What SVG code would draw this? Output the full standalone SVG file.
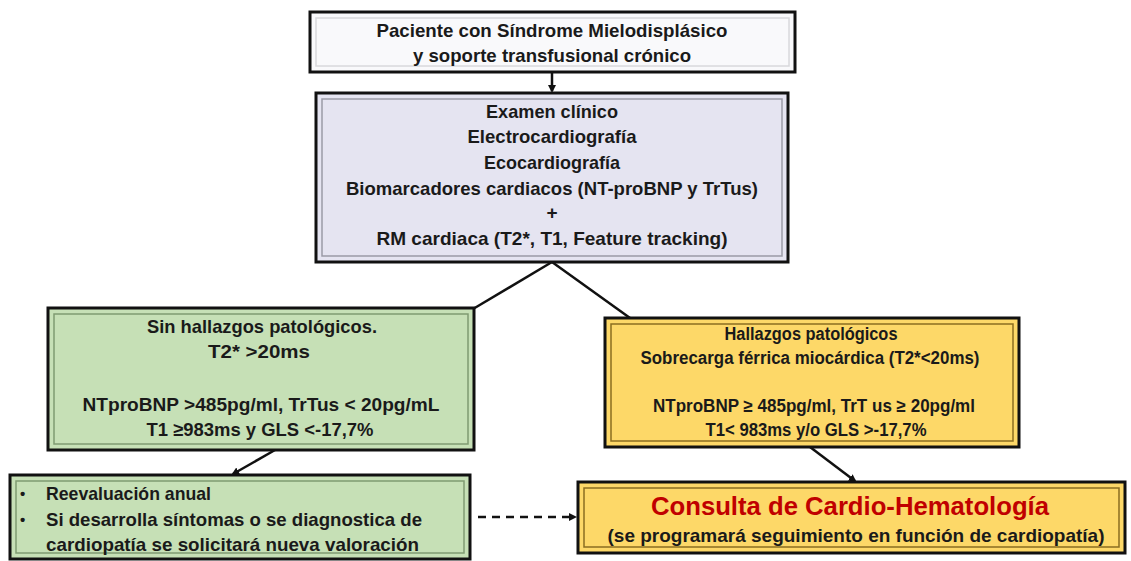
<svg xmlns="http://www.w3.org/2000/svg" width="1131" height="561" viewBox="0 0 1131 561">
<style>
text{font-family:"Liberation Sans",Arial,sans-serif;font-weight:bold;fill:#1a1a1a;font-size:19px}
.c{text-anchor:middle}
.s{font-size:18px}
.b{font-size:15px}
.outer{stroke:#111;stroke-width:3}
.conn{stroke:#111;stroke-width:2.5;fill:none}
</style>
<defs>
<marker id="ah" markerWidth="8" markerHeight="8" refX="6" refY="4" orient="auto" markerUnits="userSpaceOnUse">
<path d="M0,0 L8,4 L0,8 Z" fill="#111"/>
</marker>
</defs>
<rect width="1131" height="561" fill="#fff"/>
<g id="connectors">
<line class="conn" x1="552" y1="72" x2="552" y2="91" marker-end="url(#ah)"/>
<line class="conn" x1="552" y1="262" x2="473" y2="309"/>
<line class="conn" x1="552" y1="262" x2="630" y2="318"/>
<line class="conn" x1="275" y1="450" x2="233" y2="474" marker-end="url(#ah)"/>
<line class="conn" x1="810" y1="447" x2="855" y2="481" marker-end="url(#ah)"/>
<line class="conn" x1="478" y1="517" x2="575" y2="517" stroke-dasharray="8,6" stroke-width="2" marker-end="url(#ah)"/>
</g>
<g id="n-paciente">
<rect class="outer" x="310" y="12" width="485" height="60" fill="#f9f9fb"/>
<rect x="316" y="18" width="473" height="48" fill="none" stroke="#d8d8dc" stroke-width="1.5"/>
<text class="c" x="552" y="37" textLength="351" lengthAdjust="spacingAndGlyphs">Paciente con Síndrome Mielodisplásico</text>
<text class="c" x="552" y="62" textLength="278" lengthAdjust="spacingAndGlyphs">y soporte transfusional crónico</text>
</g>
<g id="n-examen">
<rect class="outer" x="316" y="93" width="472" height="169" fill="#e5e4f1"/>
<rect x="322" y="99" width="460" height="157" fill="none" stroke="#9a9aa6" stroke-width="1.5"/>
<text class="c" x="552" y="118" textLength="132" lengthAdjust="spacingAndGlyphs">Examen clínico</text>
<text class="c" x="552" y="143" textLength="169" lengthAdjust="spacingAndGlyphs">Electrocardiografía</text>
<text class="c" x="552" y="169" textLength="136" lengthAdjust="spacingAndGlyphs">Ecocardiografía</text>
<text class="c" x="552" y="195" textLength="412" lengthAdjust="spacingAndGlyphs">Biomarcadores cardiacos (NT-proBNP y TrTus)</text>
<text class="c" x="552" y="219">+</text>
<text class="c" x="552" y="245" textLength="351" lengthAdjust="spacingAndGlyphs">RM cardiaca (T2*, T1, Feature tracking)</text>
</g>
<g id="n-sin">
<rect class="outer" x="48" y="308" width="426" height="142" fill="#c6e0b6"/>
<rect x="54" y="314" width="414" height="130" fill="none" stroke="#7f9a72" stroke-width="1.5"/>
<text class="c" x="262" y="333" textLength="230" lengthAdjust="spacingAndGlyphs">Sin hallazgos patológicos.</text>
<text class="c" x="259" y="358" textLength="102" lengthAdjust="spacingAndGlyphs">T2* &gt;20ms</text>
<text class="c" x="261" y="411" textLength="357" lengthAdjust="spacingAndGlyphs">NTproBNP &gt;485pg/ml, TrTus &lt; 20pg/mL</text>
<text class="c" x="260" y="436" textLength="227" lengthAdjust="spacingAndGlyphs">T1 ≥983ms y GLS &lt;-17,7%</text>
</g>
<g id="n-hallazgos">
<rect class="outer" x="605" y="318" width="414" height="129" fill="#fdd868"/>
<rect x="611" y="324" width="402" height="117" fill="none" stroke="#8a6d20" stroke-width="1.5"/>
<text class="c s" x="811" y="340" textLength="173" lengthAdjust="spacingAndGlyphs">Hallazgos patológicos</text>
<text class="c s" x="810" y="364" textLength="339" lengthAdjust="spacingAndGlyphs">Sobrecarga férrica miocárdica (T2*&lt;20ms)</text>
<text class="c s" x="814" y="412" textLength="322" lengthAdjust="spacingAndGlyphs">NTproBNP ≥ 485pg/ml, TrT us ≥ 20pg/ml</text>
<text class="c s" x="816" y="436" textLength="221" lengthAdjust="spacingAndGlyphs">T1&lt; 983ms y/o GLS &gt;-17,7%</text>
</g>
<g id="n-reevaluacion">
<rect class="outer" x="10" y="475" width="460" height="84" fill="#c6e0b6"/>
<rect x="16" y="481" width="448" height="72" fill="none" stroke="#7f9a72" stroke-width="1.5"/>
<text class="b" x="20" y="499">•</text>
<text x="46" y="500" textLength="165" lengthAdjust="spacingAndGlyphs">Reevaluación anual</text>
<text class="b" x="20" y="525">•</text>
<text x="46" y="526" textLength="376" lengthAdjust="spacingAndGlyphs">Si desarrolla síntomas o se diagnostica de</text>
<text x="46" y="551" textLength="373" lengthAdjust="spacingAndGlyphs">cardiopatía se solicitará nueva valoración</text>
</g>
<g id="n-consulta">
<rect class="outer" x="578" y="482" width="547" height="71" fill="#fdd868"/>
<rect x="584" y="488" width="535" height="59" fill="none" stroke="#8a6d20" stroke-width="1.5"/>
<text class="c" x="850" y="515" textLength="398" lengthAdjust="spacingAndGlyphs" style="font-size:25px;fill:#c00000">Consulta de Cardio-Hematología</text>
<text class="c" x="856" y="542" textLength="497" lengthAdjust="spacingAndGlyphs">(se programará seguimiento en función de cardiopatía)</text>
</g>
</svg>
